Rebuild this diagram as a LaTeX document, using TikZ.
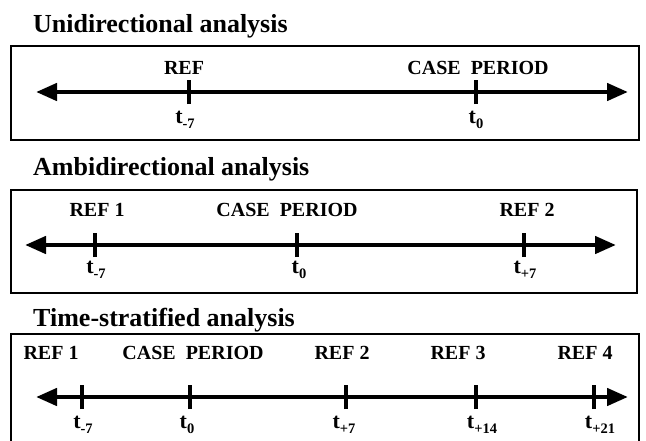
\documentclass[tikz,border=0pt]{standalone}
\usepackage{fontspec}
\setmainfont{Liberation Serif}
\usetikzlibrary{arrows.meta}
\newcommand\tlab[1]{t\raisebox{-5pt}{\fontsize{14.5}{14.5}\selectfont #1}}
\begin{document}
\begin{tikzpicture}[x=1pt,y=-1pt,
  frame/.style={draw, line width=1.3pt},
  axis/.style={line width=4.5pt, {Triangle[length=21pt,width=17pt]}-{Triangle[length=21pt,width=17pt]}},
  ticklin/.style={line width=3.5pt},
  ttl/.style={anchor=base west, inner sep=0pt, font=\fontsize{26}{30}\selectfont\bfseries},
  lbl/.style={anchor=base, inner sep=0pt, font=\fontsize{20}{24}\selectfont\bfseries},
  tlbl/.style={anchor=base, inner sep=0pt, font=\fontsize{22}{26}\selectfont\bfseries}]
\useasboundingbox (0,0) rectangle (646,440);
\clip (0,0) rectangle (646,440);

% ---------- Panel 1
\node[ttl] (T1) at (33,32) {Unidirectional analysis};
\draw[frame] (11,46) rectangle (639,140);
\coordinate (A1l) at (36,92);
\coordinate (A1r) at (628,92);
\draw[axis] (A1l) -- (A1r);
\coordinate (k11) at (189,92);
\coordinate (k12) at (476,92);
\foreach \k in {k11,k12} \draw[ticklin] ([yshift=-12pt]\k) -- ([yshift=12pt]\k);
\node[lbl] (L11) at (184,74) {REF};
\node[lbl] (L12) at (478,74) {CASE\ \ PERIOD};
\node[tlbl] (t11) at (185,123) {\tlab{-7}};
\node[tlbl] (t12) at (476,123) {\tlab{0}};

% ---------- Panel 2
\node[ttl] (T2) at (33,175) {Ambidirectional analysis};
\draw[frame] (11,190) rectangle (637,293);
\coordinate (A2l) at (25,245);
\coordinate (A2r) at (616,245);
\draw[axis] (A2l) -- (A2r);
\coordinate (k21) at (95,245);
\coordinate (k22) at (297,245);
\coordinate (k23) at (524,245);
\foreach \k in {k21,k22,k23} \draw[ticklin] ([yshift=-12pt]\k) -- ([yshift=12pt]\k);
\node[lbl] (L21) at (97,216) {REF 1};
\node[lbl] (L22) at (287,216) {CASE\ \ PERIOD};
\node[lbl] (L23) at (527,216) {REF 2};
\node[tlbl] (t21) at (96,273) {\tlab{-7}};
\node[tlbl] (t22) at (299,273) {\tlab{0}};
\node[tlbl] (t23) at (525,273) {\tlab{+7}};

% ---------- Panel 3
\node[ttl] (T3) at (33,326) {Time-stratified analysis};
\draw[frame] (11,334) rectangle (639,445);
\coordinate (A3l) at (36,397);
\coordinate (A3r) at (628,397);
\draw[axis] (A3l) -- (A3r);
\coordinate (k31) at (82,397);
\coordinate (k32) at (190,397);
\coordinate (k33) at (346,397);
\coordinate (k34) at (476,397);
\coordinate (k35) at (594,397);
\foreach \k in {k31,k32,k33,k34,k35} \draw[ticklin] ([yshift=-12pt]\k) -- ([yshift=12pt]\k);
\node[lbl] (L31) at (51,359) {REF 1};
\node[lbl] (L32) at (193,359) {CASE\ \ PERIOD};
\node[lbl] (L33) at (342,359) {REF 2};
\node[lbl] (L34) at (458,359) {REF 3};
\node[lbl] (L35) at (585,359) {REF 4};
\node[tlbl] (t31) at (83,428) {\tlab{-7}};
\node[tlbl] (t32) at (187,428) {\tlab{0}};
\node[tlbl] (t33) at (344,428) {\tlab{+7}};
\node[tlbl] (t34) at (482,428) {\tlab{+14}};
\node[tlbl] (t35) at (600,428) {\tlab{+21}};
\end{tikzpicture}
\end{document}
